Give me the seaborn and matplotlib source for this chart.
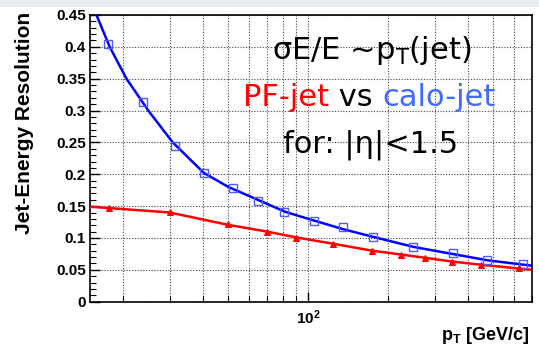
import matplotlib
matplotlib.use("Agg")
import matplotlib.pyplot as plt
import matplotlib.ticker as mticker
import numpy as np
import pandas as pd
import seaborn as sns

# --- measured points -------------------------------------------------------
calo_pt = [17.6, 23.8, 31.3, 40.3, 51.8, 64.9, 81.0, 105.0, 135.0, 175.0, 248.0, 351.0, 475.0, 648.0]
calo_res = [0.405, 0.314, 0.245, 0.202, 0.178, 0.158, 0.141, 0.127, 0.117, 0.102, 0.086, 0.076, 0.0655, 0.059]

pf_pt = [17.7, 30.0, 50.0, 70.0, 90.0, 124.0, 174.0, 225.0, 275.0, 348.0, 451.0, 627.0]
pf_res = [0.147, 0.141, 0.122, 0.110, 0.100, 0.091, 0.080, 0.073, 0.068, 0.063, 0.058, 0.053]

# --- fitted resolution curves ---------------------------------------------
calo_fit_pt = [15.2, 15.87, 17.8, 20.6, 24.9, 30.8, 40.4, 50.0, 60.5, 82.0, 104.0, 135.0, 175.0, 250.0, 350.0, 475.0, 700.0]
calo_fit_res = [0.470, 0.450, 0.400, 0.350, 0.300, 0.250, 0.202, 0.180, 0.165, 0.141, 0.128, 0.114, 0.102, 0.086, 0.075, 0.065, 0.0565]

pf_fit_pt = [15.0, 17.7, 30.0, 50.0, 70.0, 90.0, 124.0, 175.0, 225.0, 275.0, 350.0, 450.0, 700.0]
pf_fit_res = [0.149, 0.147, 0.140, 0.1205, 0.110, 0.101, 0.091, 0.080, 0.074, 0.069, 0.063, 0.058, 0.050]

y_ticks = [0.0, 0.05, 0.1, 0.15, 0.2, 0.25, 0.3, 0.35, 0.4, 0.45]
y_tick_labels = ["0", "0.05", "0.1", "0.15", "0.2", "0.25", "0.3", "0.35", "0.4", "0.45"]

sns.set_style("white")
plt.rcParams["font.family"] = ["Liberation Sans", "DejaVu Sans"]
plt.rcParams["text.color"] = "black"
plt.rcParams["mathtext.fontset"] = "custom"
plt.rcParams["mathtext.rm"] = "DejaVu Sans"
plt.rcParams["mathtext.bf"] = "Liberation Sans:bold"
plt.rcParams["axes.axisbelow"] = True

fig = plt.figure(figsize=(5.39, 3.54), dpi=100)
fig.patch.set_facecolor("white")
ax = fig.add_axes([90 / 539, 1 - 301.7 / 354, (532 - 90) / 539, (301.7 - 15) / 354])

# light band at the top edge of the slide
fig.patches.append(plt.Rectangle((0, 1 - 7 / 354), 1, 7 / 354, transform=fig.transFigure,
                                 facecolor="#eaeef3", edgecolor="none", zorder=-5))

calo_fit = pd.DataFrame({"pt": calo_fit_pt, "res": calo_fit_res})
pf_fit = pd.DataFrame({"pt": pf_fit_pt, "res": pf_fit_res})
calo = pd.DataFrame({"pt": calo_pt, "res": calo_res})
pf = pd.DataFrame({"pt": pf_pt, "res": pf_res})

sns.lineplot(data=calo_fit, x="pt", y="res", ax=ax, color="#0000ff", lw=1.8, zorder=3)
sns.lineplot(data=pf_fit, x="pt", y="res", ax=ax, color="#ff0000", lw=1.8, zorder=3)
sns.lineplot(data=calo, x="pt", y="res", ax=ax, linestyle="none", marker="s", markersize=5.8,
             markerfacecolor="none", markeredgecolor="#4f5cff", markeredgewidth=1.0, zorder=4)
sns.lineplot(data=pf, x="pt", y="res", ax=ax, linestyle="none", marker="^", markersize=4.5,
             markerfacecolor="#ff0000", markeredgecolor="#ff0000", color="#ff0000", zorder=4)

ax.set_xscale("log")
ax.set_xlim(15, 700)
ax.set_ylim(0, 0.45)

ax.set_yticks(y_ticks)
ax.set_yticklabels(y_tick_labels)
ax.yaxis.set_minor_locator(mticker.MultipleLocator(0.01))

ax.xaxis.set_major_locator(mticker.FixedLocator([100]))
ax.xaxis.set_major_formatter(mticker.FixedFormatter([r"$\mathbf{10^{2}}$"]))
ax.xaxis.set_minor_locator(mticker.LogLocator(base=10, subs=np.arange(2, 10)))
ax.xaxis.set_minor_formatter(mticker.NullFormatter())

ax.tick_params(axis="both", which="major", direction="in", length=7, width=1.0,
               labelsize=11, colors="black", left=True, bottom=True)
ax.tick_params(axis="both", which="minor", direction="in", length=4, width=0.8,
               colors="black", left=True, bottom=True)
ax.tick_params(axis="x", which="major", pad=5)
ax.tick_params(axis="y", which="major", pad=3)
for lab in ax.get_yticklabels():
    lab.set_fontweight("bold")

# dotted grid: every decade subdivision in x, major steps in y
grid_style = dict(linestyle=(0, (1.0, 1.5)), color="#444444", linewidth=0.8)
ax.xaxis.grid(True, which="both", **grid_style)
ax.yaxis.grid(True, which="major", **grid_style)
ax.yaxis.grid(False, which="minor")

for s in ax.spines.values():
    s.set_visible(True)
    s.set_color("black")
    s.set_linewidth(1.2)

ax.set_xlabel("")
ax.set_ylabel("")
fig.text(25 / 539, 1 - 123 / 354, "Jet-Energy Resolution", rotation=90, ha="center", va="center",
         fontsize=15, fontweight="bold", color="black")
fig.text(529 / 539, 1 - 336 / 354, r"$\mathbf{p_{T}}$ [GeV/c]", ha="right", va="center",
         fontsize=13, fontweight="bold", color="black")

# annotation block
big = dict(fontsize=22, family=["DejaVu Sans"])
fig.text(372 / 539, 1 - 59 / 354, r"σE/E ~p$_{\mathrm{T}}$(jet)", ha="center", va="baseline",
         color="black", **big)
t1 = fig.text(243 / 539, 1 - 106 / 354, "PF-jet", ha="left", va="baseline", color="#ff0000", **big)
t2 = ax.annotate(" vs ", xy=(1, 0), xycoords=t1, ha="left", va="bottom", color="black",
                 annotation_clip=False, **big)
ax.annotate("calo-jet", xy=(1, 0), xycoords=t2, ha="left", va="bottom", color="#3f6bff",
            annotation_clip=False, **big)
fig.text(371 / 539, 1 - 152 / 354, "for: |η|<1.5", ha="center", va="baseline", color="black", **big)

fig.savefig("out.png", dpi=100)
